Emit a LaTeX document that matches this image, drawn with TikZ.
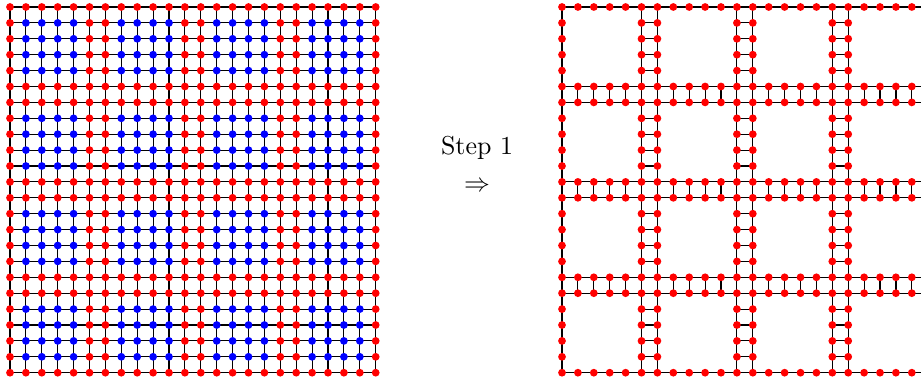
\documentclass[tikz,border=0pt]{standalone}
\usetikzlibrary{backgrounds}
\begin{document}
\begin{tikzpicture}[x=0.3861pt,y=-0.3861pt,
  declare function={rr(\k)=(mod(\k,6)==0) || (mod(\k,6)==5);},
  dot/.style={circle,inner sep=0pt,minimum size=3.0pt,draw=none},
  reddot/.style={dot,fill=red},
  bluedot/.style={dot,fill=blue},
  link/.style={draw=black,line width=0.45pt},
  lbl/.style={font=\normalsize,inner sep=0pt}]
\useasboundingbox (0,0) rectangle (921,379);
\clip (0,0) rectangle (921,379);
% nodes
\foreach \i in {0,...,23}{
  \foreach \j in {0,...,23}{
    \pgfmathtruncatemacro\isred{(rr(\i) || rr(\j)) ? 1 : 0}
    \ifnum\isred=1
      \node[reddot] (L-\i-\j) at ({10+15.9*\j},{7+15.9*\i}) {};
      \node[reddot] (R-\i-\j) at ({562+15.9*\j},{7+15.9*\i}) {};
    \else
      \node[bluedot] (L-\i-\j) at ({10+15.9*\j},{7+15.9*\i}) {};
    \fi
  }
}
% edges
\begin{scope}[on background layer]
\clip (0,0) rectangle (921,379);
\foreach \i in {0,...,23}{
  \foreach \j [evaluate=\j as \jn using int(\j+1)] in {0,...,22}{
    \draw[link] (L-\i-\j.center) -- (L-\i-\jn.center);
    \draw[link] (L-\j-\i.center) -- (L-\jn-\i.center);
    \pgfmathtruncatemacro\ok{(rr(\i) || (rr(\j) && rr(\jn))) ? 1 : 0}
    \ifnum\ok=1
      \draw[link] (R-\i-\j.center) -- (R-\i-\jn.center);
      \draw[link] (R-\j-\i.center) -- (R-\jn-\i.center);
    \fi
  }
}
\end{scope}
% label
\node[lbl,anchor=base] (step) at (477,155) {Step 1};
\node[lbl] (arrow) at (477,187) {$\Rightarrow$};
\end{tikzpicture}
\end{document}
